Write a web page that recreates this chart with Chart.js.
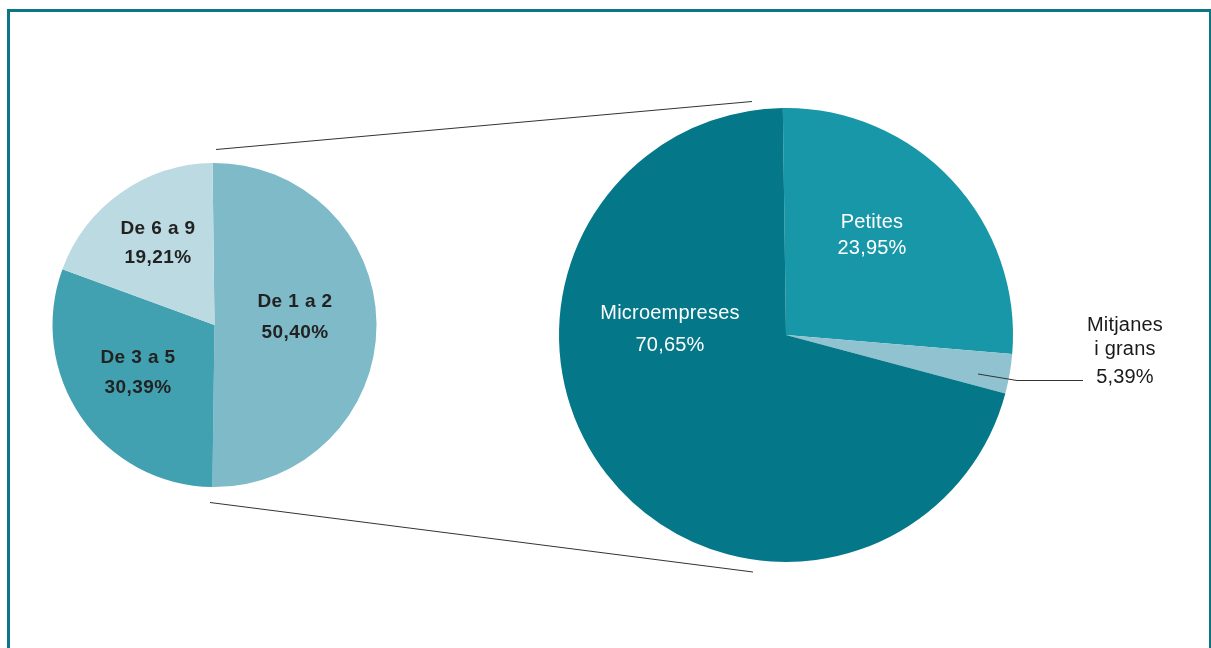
<!DOCTYPE html>
<html>
<head>
<meta charset="utf-8">
<script src="https://cdn.jsdelivr.net/npm/chart.js@4.4.1/dist/chart.umd.min.js"></script>
<style>
    html, body { margin: 0; padding: 0; background: #fff; overflow: hidden; }
    #stage { position: relative; width: 1211px; height: 648px; overflow: hidden; }
    #stage canvas { position: absolute; left: 0; top: 0; }
    .frame { position: absolute; left: 7px; top: 9px; width: 1199px; height: 700px; border: 3px solid #0b7686; box-sizing: content-box; }
</style>
</head>
<body>
<div id="stage">
    <div class="frame"></div>
    <canvas id="leftPie" width="1211" height="648"></canvas>
    <canvas id="rightPie" width="1211" height="648"></canvas>
</div>
<script>
// Pie de l'esquerra: microempreses per nombre de treballadors
const leftLabels = ['De 1 a 2', 'De 3 a 5', 'De 6 a 9'];
const leftValues = [50.40, 30.39, 19.21];
const leftPercents = ['50,40%', '30,39%', '19,21%'];
const leftColors = ['#7fbac8', '#42a1b1', '#bcdae2'];

// Pie de la dreta: empreses per mida (parts tal com es veuen dibuixades)
const rightLabels = [['Petites'], ['Mitjanes', 'i grans'], ['Microempreses']];
const rightValues = [26.55, 2.82, 70.63];
const rightPercents = ['23,95%', '5,39%', '70,65%'];
const rightColors = ['#1797a8', '#90c3cf', '#047789'];

const FONT = '"Liberation Sans", Arial, Helvetica, sans-serif';

// posicions dels textos (centre de cada línia)
const leftTextPos = [
    { x: 295, y: [302, 333] },
    { x: 138, y: [358, 388] },
    { x: 158, y: [229, 258] }
];
const rightTextPos = [
    { x: 872, y: [222, 248], color: '#fff' },
    { x: 1125, y: [325, 349, 377], color: '#1a1a1a' },
    { x: 670, y: [313, 345], color: '#fff' }
];

const leftLabelsPlugin = {
    id: 'leftLabels',
    afterDraw(chart) {
        const ctx = chart.ctx;
        ctx.save();
        ctx.fillStyle = '#222';
        ctx.font = `bold 19px ${FONT}`;
        ctx.textAlign = 'center';
        ctx.textBaseline = 'middle';
        if ('letterSpacing' in ctx) ctx.letterSpacing = '0.4px';
        leftLabels.forEach((lbl, i) => {
            const p = leftTextPos[i];
            ctx.fillText(lbl, p.x, p.y[0]);
            ctx.fillText(leftPercents[i], p.x, p.y[1]);
        });
        ctx.restore();
    }
};

const rightLabelsPlugin = {
    id: 'rightLabels',
    afterDraw(chart) {
        const ctx = chart.ctx;
        ctx.save();

        // línies de connexió entre les dues pies
        ctx.strokeStyle = '#333';
        ctx.lineWidth = 1;
        ctx.beginPath();
        ctx.moveTo(216, 149.5); ctx.lineTo(752, 101.5);
        ctx.moveTo(210, 502.5); ctx.lineTo(753, 572);
        // línia guia de "Mitjanes i grans"
        ctx.moveTo(978, 374); ctx.lineTo(1017, 380.5); ctx.lineTo(1083, 380.5);
        ctx.stroke();

        ctx.font = `20px ${FONT}`;
        ctx.textAlign = 'center';
        ctx.textBaseline = 'middle';
        if ('letterSpacing' in ctx) ctx.letterSpacing = '0.2px';
        rightLabels.forEach((lines, i) => {
            const p = rightTextPos[i];
            ctx.fillStyle = p.color;
            lines.forEach((t, k) => ctx.fillText(t, p.x, p.y[k]));
            ctx.fillText(rightPercents[i], p.x, p.y[lines.length]);
        });
        ctx.restore();
    }
};

const baseOptions = (padding, rotation) => ({
    responsive: false,
    animation: false,
    rotation: rotation,
    layout: { padding: padding },
    plugins: { legend: { display: false }, tooltip: { enabled: false } },
    elements: { arc: { borderWidth: 0 } }
});

new Chart(document.getElementById('leftPie'), {
    type: 'pie',
    data: {
        labels: leftLabels,
        datasets: [{ data: leftValues, backgroundColor: leftColors, borderWidth: 0 }]
    },
    options: baseOptions({ left: 52, right: 1211 - 377, top: 163, bottom: 648 - 487 }, -0.7),
    plugins: [leftLabelsPlugin]
});

new Chart(document.getElementById('rightPie'), {
    type: 'pie',
    data: {
        labels: rightLabels.map(l => l.join(' ')),
        datasets: [{ data: rightValues, backgroundColor: rightColors, borderWidth: 0 }]
    },
    options: baseOptions({ left: 559, right: 1211 - 1013, top: 108, bottom: 648 - 562 }, -0.8),
    plugins: [rightLabelsPlugin]
});
</script>
</body>
</html>
